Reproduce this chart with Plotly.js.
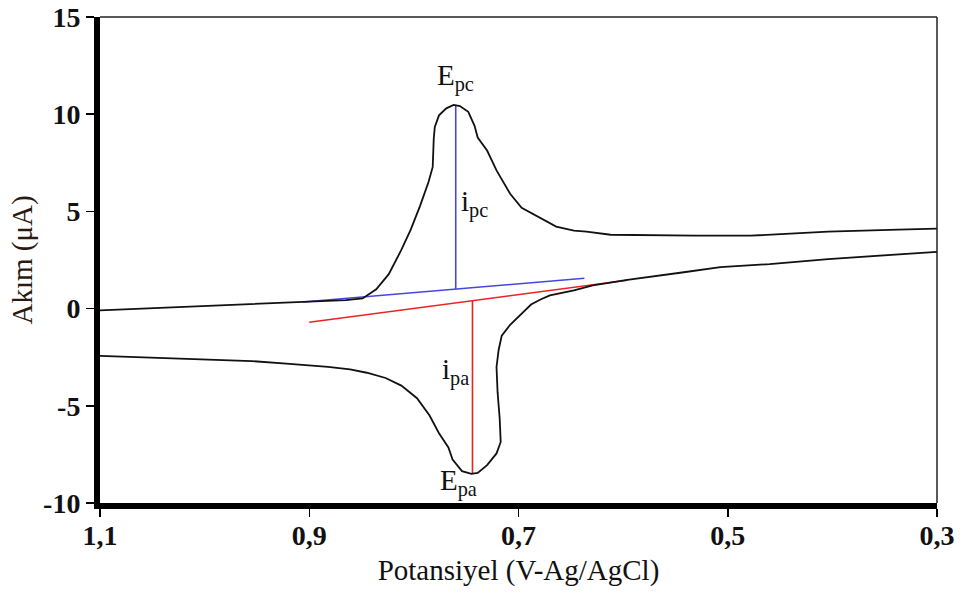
<!DOCTYPE html>
<html>
<head>
<meta charset="utf-8">
<script src="https://cdn.plot.ly/plotly-3.0.1.min.js"></script>
<style>html,body{margin:0;padding:0;background:#fff;}#chart{width:963px;height:596px;}</style>
</head>
<body>
<div id="chart"></div>
<script>
// Forward (cathodic) scan: potential (V) and current (µA)
var forwardE = [1.100,1.078,1.034,0.994,0.950,0.911,0.884,0.865,0.849,0.836,0.824,0.812,0.803,0.794,0.786,0.782,0.781,0.780,0.776,0.769,0.762,0.756,0.748,0.742,0.739,0.730,0.721,0.708,0.697,0.679,0.664,0.647,0.635,0.612,0.566,0.531,0.478,0.404,0.337,0.300];
var forwardI = [-0.09,-0.04,0.05,0.16,0.26,0.34,0.42,0.44,0.52,0.99,1.77,3.02,4.06,5.30,6.51,7.29,8.74,9.34,9.94,10.30,10.48,10.42,10.12,9.40,8.80,8.13,7.11,5.91,5.18,4.64,4.22,4.01,3.96,3.80,3.75,3.75,3.75,3.96,4.06,4.11];
// Reverse (anodic) scan
var reverseE = [0.300,0.346,0.404,0.460,0.507,0.542,0.572,0.596,0.629,0.647,0.670,0.679,0.688,0.694,0.699,0.708,0.716,0.719,0.721,0.720,0.718,0.717,0.721,0.730,0.739,0.745,0.754,0.763,0.767,0.776,0.785,0.797,0.812,0.827,0.845,0.861,0.882,0.900,0.922,0.955,1.005,1.069,1.100];
var reverseI = [2.92,2.76,2.55,2.29,2.13,1.87,1.67,1.48,1.20,0.94,0.68,0.47,0.21,-0.09,-0.39,-0.83,-1.39,-2.13,-3.00,-4.30,-5.64,-6.86,-7.45,-8.05,-8.45,-8.50,-8.36,-7.77,-7.14,-6.41,-5.50,-4.61,-3.96,-3.57,-3.30,-3.13,-3.00,-2.91,-2.83,-2.70,-2.61,-2.52,-2.43];
// Baselines and peak-current markers
var cathodicBaseE = [0.906, 0.637];
var cathodicBaseI = [0.34, 1.56];
var cathodicPeakE = [0.760, 0.760];
var cathodicPeakI = [1.00, 10.48];
var anodicBaseE = [0.900, 0.596];
var anodicBaseI = [-0.70, 1.46];
var anodicPeakE = [0.744, 0.744];
var anodicPeakI = [0.41, -8.50];
// Tick labels
var xTickVals = [1.1, 0.9, 0.7, 0.5, 0.3];
var xTickText = ['1,1', '0,9', '0,7', '0,5', '0,3'];
var yTickVals = [15, 10, 5, 0, -5, -10];
var yTickText = ['15', '10', '5', '0', '-5', '-10'];
// Peak labels
var labelText = ['E<sub>pc</sub>', 'i<sub>pc</sub>', 'i<sub>pa</sub>', 'E<sub>pa</sub>'];
var labelE = [0.760, 0.757, 0.745, 0.757];
var labelI = [11.9, 5.4, -3.25, -8.95];

var serif = 'Liberation Serif, Times New Roman, serif';
var BLUE = 'rgb(70,70,225)';
var RED = 'rgb(235,35,35)';

var traces = [
  {x: cathodicBaseE, y: cathodicBaseI, mode: 'lines', line: {color: BLUE, width: 1.6}, hoverinfo: 'skip'},
  {x: cathodicPeakE, y: cathodicPeakI, mode: 'lines', line: {color: BLUE, width: 1.6}, hoverinfo: 'skip'},
  {x: anodicBaseE, y: anodicBaseI, mode: 'lines', line: {color: RED, width: 1.6}, hoverinfo: 'skip'},
  {x: anodicPeakE, y: anodicPeakI, mode: 'lines', line: {color: RED, width: 1.6}, hoverinfo: 'skip'},
  {x: forwardE, y: forwardI, mode: 'lines', line: {color: '#111', width: 1.8}},
  {x: reverseE, y: reverseI, mode: 'lines', line: {color: '#111', width: 1.8}}
];

var anns = [];
var anchors = [['center','middle'], ['left','middle'], ['right','middle'], ['center','middle']];
for (var i = 0; i < labelText.length; i++) {
  anns.push({x: labelE[i], y: labelI[i], xref: 'x', yref: 'y', text: labelText[i], showarrow: false,
    xanchor: anchors[i][0], yanchor: anchors[i][1],
    font: {family: serif, size: 29, color: '#111'}});
}

var layout = {
  width: 963, height: 596,
  margin: {l: 100, r: 26, t: 17, b: 93},
  paper_bgcolor: '#fff', plot_bgcolor: '#fff',
  showlegend: false,
  xaxis: {
    range: [1.1, 0.3], showgrid: false, zeroline: false,
    showline: true, linecolor: '#000', linewidth: 6,
    ticks: 'outside', ticklen: 8, tickwidth: 1.5, tickcolor: '#000',
    tickmode: 'array', tickvals: xTickVals, ticktext: xTickText,
    ticklabelstandoff: -6,
    tickfont: {family: serif, size: 28, color: '#111', weight: 'bold'},
    title: {text: 'Potansiyel (V-Ag/AgCl)', font: {family: serif, size: 29, color: '#111'}, standoff: 12}
  },
  yaxis: {
    range: [-10, 15], showgrid: false, zeroline: false,
    showline: true, linecolor: '#000', linewidth: 6,
    ticks: 'outside', ticklen: 8, tickwidth: 1.5, tickcolor: '#000',
    tickmode: 'array', tickvals: yTickVals, ticktext: yTickText,
    tickfont: {family: serif, size: 28, color: '#111', weight: 'bold'},
    title: {text: 'Akım (μA)', font: {family: serif, size: 29, color: '#2a1a10'}, standoff: 4}
  },
  shapes: [
    {type: 'line', xref: 'paper', yref: 'paper', x0: 0, x1: 1, y0: 1, y1: 1, line: {color: '#222', width: 1.5}},
    {type: 'line', xref: 'paper', yref: 'paper', x0: 1, x1: 1, y0: 0, y1: 1, line: {color: '#222', width: 1.5}}
  ],
  annotations: anns
};

Plotly.newPlot('chart', traces, layout, {displayModeBar: false, staticPlot: true});
</script>
</body>
</html>
